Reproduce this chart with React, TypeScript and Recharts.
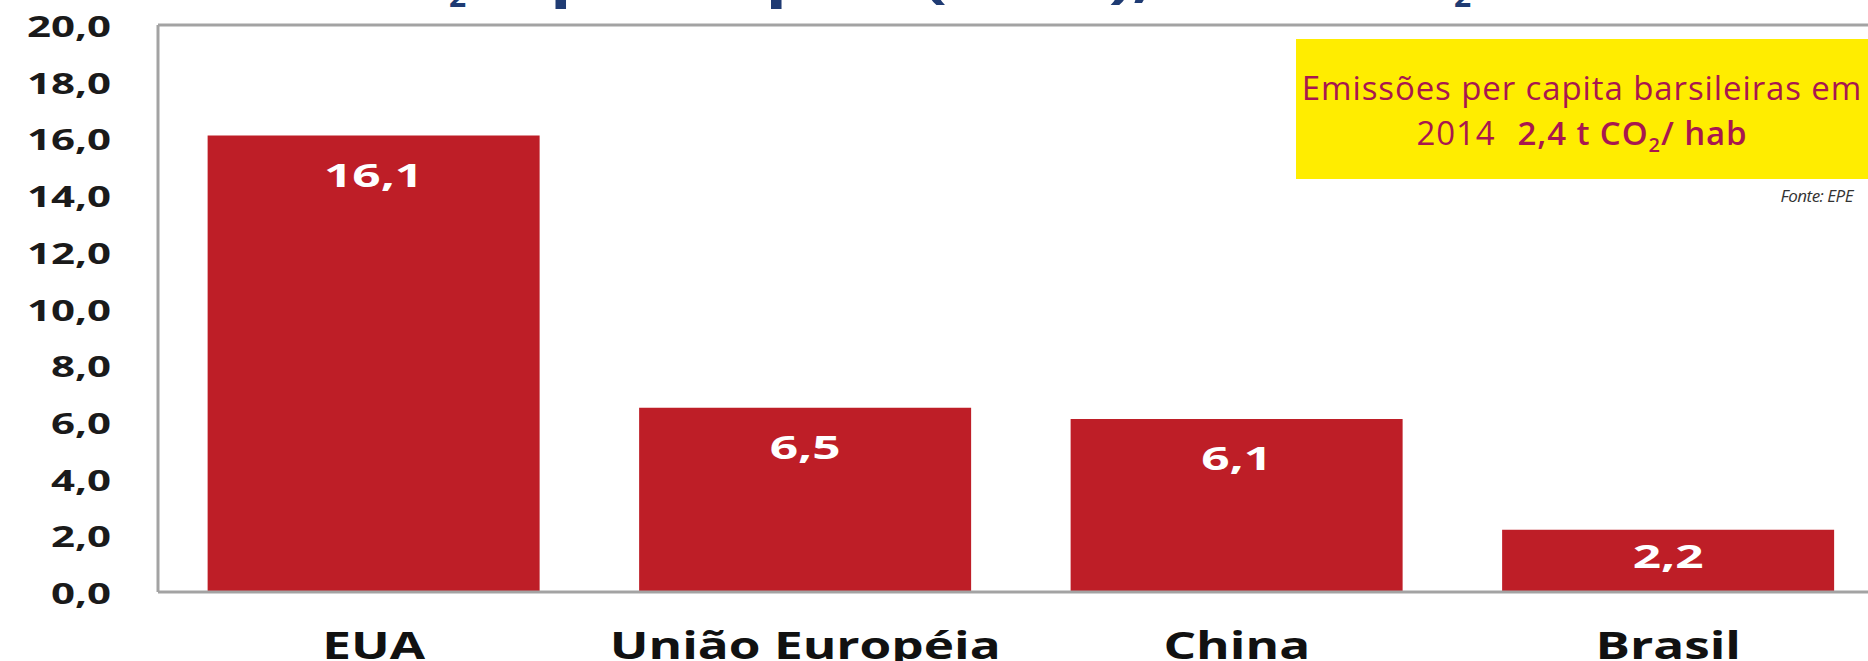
import React from 'react';
import { BarChart, Bar, XAxis, YAxis, ReferenceLine, LabelList } from 'recharts';

const categories = ['EUA', 'União Européia', 'China', 'Brasil'];
const emissions = [16.1, 6.5, 6.1, 2.2];
const yTicks = [0, 2, 4, 6, 8, 10, 12, 14, 16, 18, 20];

const data = categories.map((name, i) => ({ name, value: emissions[i] }));

const fmt = (v: number) => v.toFixed(1).replace('.', ',');

const FONT = '"Open Sans", sans-serif';
const RED = '#be1e27';
const GRAY = '#a3a3a3';

const YTick = (props: any) => {
  const { x, y, payload } = props;
  return (
    <g transform={`translate(${x - 47},${y + 12}) scale(1.5,1)`}>
      <text textAnchor="end" fontFamily={FONT} fontWeight={700} fontSize={28} fill="#1a1a1a">
        {fmt(payload.value)}
      </text>
    </g>
  );
};

const XTick = (props: any) => {
  const { x, y, payload } = props;
  return (
    <g transform={`translate(${x},${y + 67}) scale(1.35,1)`}>
      <text textAnchor="middle" fontFamily={FONT} fontWeight={700} fontSize={38} fill="#111">
        {payload.value}
      </text>
    </g>
  );
};

const ValueLabel = (props: any) => {
  const vb = props.viewBox || props;
  const x = Number(vb.x);
  const y = Number(vb.y);
  const w = Number(vb.width);
  const h = Number(vb.height);
  const base = y + Math.min(51, h / 2 + 7);
  return (
    <g transform={`translate(${x + w / 2},${base}) scale(1.55,1)`}>
      <text textAnchor="middle" fontFamily={FONT} fontWeight={700} fontSize={32} fill="#fff">
        {fmt(Number(props.value))}
      </text>
    </g>
  );
};

export default function App() {
  return (
    <div
      style={{
        position: 'absolute',
        left: 0,
        top: 0,
        width: 1868,
        height: 661,
        overflow: 'hidden',
        background: '#fff',
      }}
    >
      <BarChart
        width={1900}
        height={661}
        data={data}
        margin={{ top: 25, right: 16, bottom: 0, left: 0 }}
        barCategoryGap="11.5%"
      >
        <XAxis
          dataKey="name"
          height={69}
          interval={0}
          tickLine={false}
          tickSize={0}
          tickMargin={0}
          axisLine={{ stroke: GRAY, strokeWidth: 3 }}
          tick={<XTick />}
        />
        <YAxis
          width={158}
          domain={[0, 20]}
          ticks={yTicks}
          interval={0}
          tickLine={false}
          tickSize={0}
          tickMargin={0}
          axisLine={{ stroke: GRAY, strokeWidth: 3 }}
          tick={<YTick />}
        />
        <ReferenceLine y={20} stroke={GRAY} strokeWidth={3} />
        <Bar dataKey="value" fill={RED} isAnimationActive={false}>
          <LabelList dataKey="value" content={<ValueLabel />} />
        </Bar>
      </BarChart>

      {/* title (mostly cut off at the top) and the yellow note */}
      <svg
        width={1868}
        height={661}
        style={{ position: 'absolute', left: 0, top: 0, pointerEvents: 'none' }}
      >
        <g fontFamily={FONT} fontWeight={700} fill="#1f3b73">
          <text x={446} y={-3} fontSize={50} textAnchor="end">
            Emissões de CO
          </text>
          <text x={449} y={7} fontSize={30}>
            2
          </text>
          <text x={550} y={-3} fontSize={50} textLength={900} lengthAdjust="spacingAndGlyphs">
            per capita (2014), em t CO
          </text>
          <text x={1454} y={7} fontSize={30}>
            2
          </text>
        </g>

        <rect x={1296} y={39} width={580} height={140} fill="#ffed00" />
        <g fontFamily={FONT} fill="#a8174f">
          <text x={1582} y={100} fontSize={33} textAnchor="middle" letterSpacing={0.9}>
            Emissões per capita barsileiras em
          </text>
          <text x={1582} y={145} fontSize={33} textAnchor="middle" letterSpacing={0.9}>
            <tspan>2014</tspan>
            <tspan dx={22} fontWeight={600}>2,4 t CO</tspan>
            <tspan fontSize={20} dy={7} fontWeight={600}>2</tspan>
            <tspan dy={-7} fontWeight={600}>/ hab</tspan>
          </text>
        </g>
        <text
          x={1853}
          y={202}
          fontFamily={FONT}
          fontStyle="italic"
          fontSize={17}
          letterSpacing={-0.5}
          textAnchor="end"
          fill="#333"
        >
          Fonte: EPE
        </text>
      </svg>
    </div>
  );
}
